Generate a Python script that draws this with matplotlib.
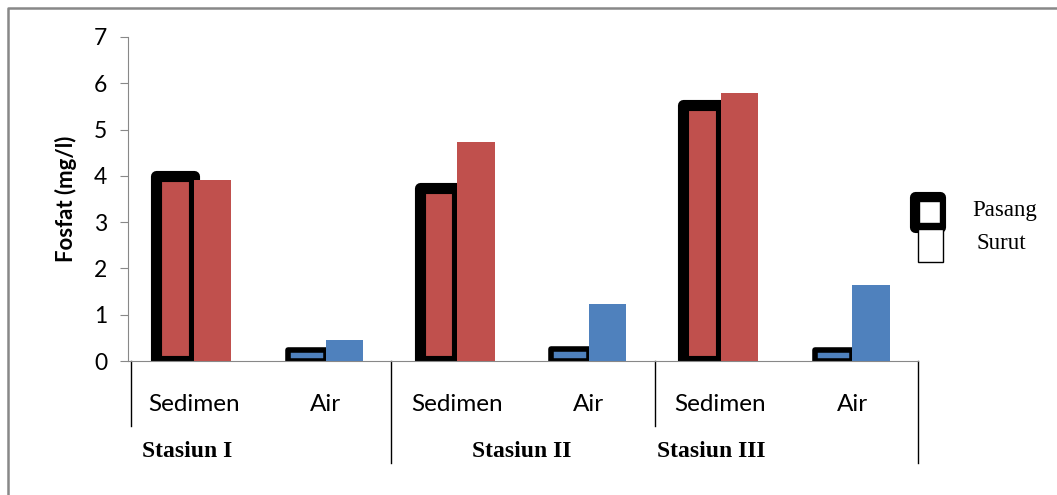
import matplotlib.pyplot as plt
import numpy as np
from matplotlib.patches import Rectangle
from matplotlib.lines import Line2D

categories = ["Sedimen", "Air", "Sedimen", "Air", "Sedimen", "Air"]
stations = ["Stasiun I", "Stasiun II", "Stasiun III"]
pasang = [4.0, 0.24, 3.74, 0.27, 5.53, 0.24]
surut = [3.91, 0.45, 4.73, 1.23, 5.79, 1.64]
series = ["Pasang", "Surut"]

red = "#C0504D"
blue = "#4F81BD"
colors = [red if c == "Sedimen" else blue for c in categories]
edge_w = [8 if c == "Sedimen" else 4 for c in categories]

fig = plt.figure(figsize=(10.57, 4.95), dpi=100)
ax = fig.add_axes([0.1211, 0.2707, 0.7474, 0.6546])

x = np.arange(len(categories))
w = 0.285
ax.bar(x - w / 2, pasang, w, color=colors, edgecolor="black", linewidth=edge_w,
       joinstyle="round", zorder=2)
ax.bar(x + w / 2, surut, w, color=colors, zorder=3)

ax.set_xlim(-0.5, 5.5)
ax.set_ylim(0, 7)
ax.set_yticks(range(8))
ax.set_xticks([])
for s in ["top", "right"]:
    ax.spines[s].set_visible(False)
ax.spines["left"].set_color("#888888")
ax.spines["bottom"].set_color("#888888")
ax.tick_params(axis="y", length=6, color="#888888", labelsize=16.5, pad=9)
for lab in ax.get_yticklabels():
    lab.set_fontfamily("Lato")
ax.set_ylabel("Fosfat (mg/l)", fontsize=16, fontweight="bold", family="Lato", labelpad=12)

# category labels and station separators below the axis
tr = ax.get_xaxis_transform()
for xi, c in zip(x, categories):
    ax.text(xi, -0.133, c, transform=tr, ha="center", va="center",
            fontsize=17.5, family="Lato")
for xs, depth in zip([-0.48, 1.5, 3.5, 5.5], [-0.2, -0.315, -0.2, -0.315]):
    ax.plot([xs, xs], [0, depth], transform=tr, color="black", lw=1, clip_on=False)
for xs, st in zip([-0.05, 2.49, 3.93], stations):
    ax.text(xs, -0.278, st, transform=tr, ha="center", va="center",
            fontsize=17, fontweight="bold", family="Liberation Serif")

# legend drawn by hand
W, H = 1057, 495
fig.patches.append(Rectangle((915 / W, 1 - 227 / H), 25 / W, 30 / H, transform=fig.transFigure,
                             facecolor="white", edgecolor="black", lw=8, joinstyle="round"))
fig.patches.append(Rectangle((918 / W, 1 - 262 / H), 25 / W, 33 / H, transform=fig.transFigure,
                             facecolor="white", edgecolor="black", lw=1))
fig.patches.append(Rectangle((919 / W, 1 - 223 / H), 21 / W, 22 / H, transform=fig.transFigure,
                             facecolor="white", edgecolor="black", lw=1))
fig.text(972 / W, 1 - 210 / H, series[0], fontsize=16.5, family="Liberation Serif", va="center")
fig.text(977 / W, 1 - 243 / H, series[1], fontsize=16.5, family="Liberation Serif", va="center")

# outer frame: only top and left edges visible
fig.add_artist(Line2D([8 / W, 8 / W, 1.0], [0, 1 - 8 / H, 1 - 8 / H], transform=fig.transFigure,
                      color="#888888", lw=1.8))

fig.savefig("out.png", dpi=100)
